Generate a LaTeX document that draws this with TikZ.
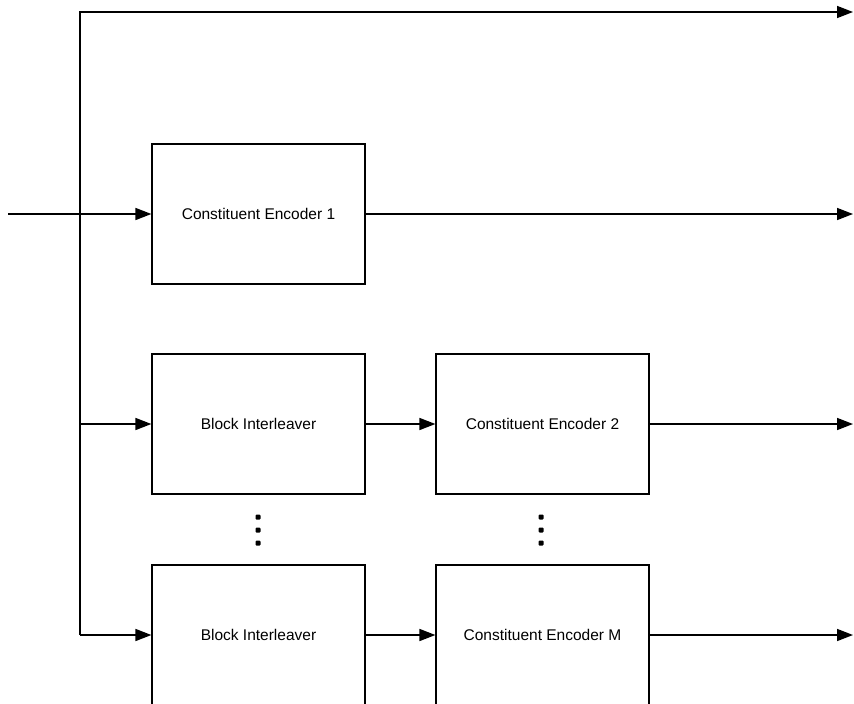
\documentclass[tikz,border=0pt]{standalone}
\usepackage{fontspec}
\setmainfont{Liberation Sans}
\usetikzlibrary{arrows.meta}
\begin{document}
\begin{tikzpicture}[x=1pt,y=-1pt,
  blk/.style={draw, line width=1.2pt, minimum width=213pt, minimum height=140pt,
    inner sep=0pt, font=\fontsize{15.5}{18}\selectfont},
  wire/.style={line width=1.6pt},
  sig/.style={wire, -{Triangle[length=16pt,width=12pt]}},
  vdot/.style={rectangle, rounded corners=1pt, fill, inner sep=0pt, minimum size=5pt}]
\useasboundingbox (0,0) rectangle (854,704);
\clip (0,0) rectangle (854,704);

% blocks
\node[blk] (enc1) at (258.5,214) {Constituent Encoder 1};
\node[blk] (il1)  at (258.5,424) {Block Interleaver};
\node[blk] (il2)  at (258.5,635) {Block Interleaver};
\node[blk] (enc2) at (542.5,424) {Constituent Encoder 2};
\node[blk] (encm) at (542.5,635) {Constituent Encoder M};

% vertical ellipses between the rows
\foreach \yy [count=\k] in {517,530,543} {
  \node[vdot] (da\k) at (258,\yy) {};
  \node[vdot] (db\k) at (541,\yy) {};
}

% connection points
\coordinate (in)  at (8,214);
\coordinate (top) at (80,12);
\coordinate (j1)  at (80,424);
\coordinate (j2)  at (80,635);
\coordinate (o0)  at (853,12);
\coordinate (o1)  at (853,214);
\coordinate (o2)  at (853,424);
\coordinate (om)  at (853,635);

% systematic output and fan-out trunk
\draw[sig] (j2) -- (top) -- (o0);
\draw[sig] (in) -- (enc1.west);
\draw[sig] (j1) -- (il1.west);
\draw[sig] (j2) -- (il2.west);

% interleaver to encoder
\draw[sig] (il1.east) -- (enc2.west);
\draw[sig] (il2.east) -- (encm.west);

% parity outputs
\draw[sig] (enc1.east) -- (o1);
\draw[sig] (enc2.east) -- (o2);
\draw[sig] (encm.east) -- (om);
\end{tikzpicture}
\end{document}
